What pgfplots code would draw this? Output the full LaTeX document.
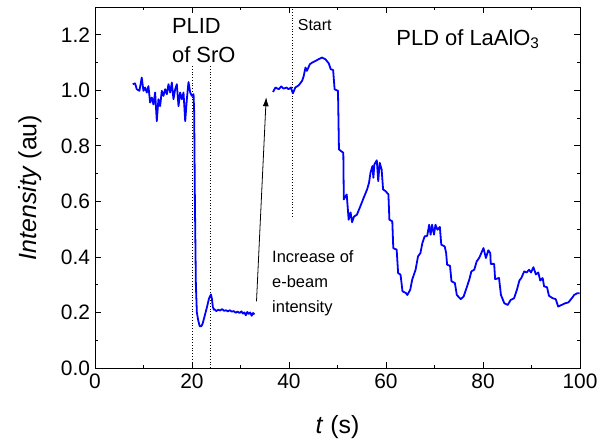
\documentclass[border=0pt]{standalone}
\usepackage{fontspec}
\setmainfont{Liberation Sans}
\usepackage{pgfplots}
\pgfplotsset{compat=1.18}
\usetikzlibrary{arrows.meta}
\begin{document}
\begin{tikzpicture}
\path[use as bounding box] (-95bp,-73bp) rectangle (504bp,368bp);
\begin{axis}[
  at={(0,0)}, anchor=south west,
  scale only axis, width=485bp, height=361bp,
  xmin=0, xmax=100, ymin=0, ymax=1.3,
  xtick={0,20,...,100}, ytick={0,0.2,...,1.2},
  minor x tick num=1, minor y tick num=1,
  tick align=inside,
  major tick length=6bp, minor tick length=3.5bp,
  axis line style={line width=0.9pt}, every tick/.style={line width=0.8pt, black},
  ticklabel style={font=\fontsize{21}{24}\selectfont},
  /pgf/number format/assume math mode=true,
  yticklabel style={xshift=-1.5bp, /pgf/number format/.cd, fixed, fixed zerofill, precision=1},
  xticklabel style={yshift=-2bp},
  xlabel={\textit{t} (s)}, ylabel={\textit{Intensity} (au)},
  label style={font=\fontsize{25}{28}\selectfont},
  xlabel style={at={(axis description cs:0.5,-0.163)}, anchor=center},
  ylabel style={at={(axis description cs:-0.134,0.5)}, anchor=center},
]
% dotted markers
\draw[dotted, line width=0.8pt] (axis cs:20.1,0) -- (axis cs:20.1,1.094);
\draw[dotted, line width=0.8pt] (axis cs:23.8,0) -- (axis cs:23.8,1.094);
\draw[dotted, line width=0.8pt] (axis cs:40.6,0.546) -- (axis cs:40.6,1.3);
% curve
\addplot[blue, line width=1.8pt, line join=round] coordinates {
(7.78,1.022)(8.26,1.025)(8.61,1.004)(9.16,0.998)(9.64,1.046)(9.99,0.998)(10.33,1.010)(10.68,0.992)
(11.02,1.015)(11.36,0.956)(11.71,0.974)(12.05,0.949)(12.40,0.992)(12.74,0.889)(13.08,0.968)(13.43,0.943)
(13.77,0.998)(14.12,0.980)(14.46,1.004)(14.81,0.986)(15.15,1.022)(15.50,0.992)(15.84,1.028)(16.18,0.968)
(16.53,1.004)(16.87,1.022)(17.22,0.943)(17.56,0.992)(17.91,0.968)(18.25,0.992)(18.60,0.889)(18.94,0.968)
(19.28,1.030)(19.63,0.992)(19.97,0.980)(20.32,0.986)
(20.45,0.92)(20.6,0.60)(20.8,0.30)(21.0,0.20)(21.3,0.17)(21.6,0.150)(21.9,0.150)(22.2,0.160)
(22.5,0.180)(22.8,0.200)(23.1,0.220)(23.5,0.250)(23.9,0.265)(24.1,0.250)(24.3,0.220)(24.5,0.210)
(24.6,0.212)(25.0,0.205)(25.4,0.210)(25.8,0.207)(26.2,0.212)(26.6,0.206)(27.0,0.208)(27.4,0.204)
(27.8,0.208)(28.2,0.203)(28.6,0.205)(29.0,0.199)(29.4,0.203)(29.8,0.198)(30.2,0.204)(30.5,0.196)
(30.8,0.200)(31.1,0.190)(31.4,0.202)(31.7,0.195)(32.0,0.200)(32.3,0.188)(32.6,0.198)(32.9,0.193)
};
\addplot[blue, line width=1.8pt, line join=round] coordinates {
(36.7,0.994)(37.2,1.010)(37.9,1.004)(38.4,1.014)(38.9,1.006)(39.5,1.010)(39.9,1.004)(40.4,1.010)
(40.8,0.989)(41.3,1.010)(42.0,1.018)(42.7,1.034)(43.0,1.049)(43.4,1.082)(43.7,1.070)(44.3,1.094)
(44.8,1.100)(45.5,1.106)(46.1,1.112)(46.8,1.118)(47.5,1.112)(48.2,1.097)(48.6,1.076)(49.1,1.073)
(49.4,1.004)(50.1,0.998)(50.3,0.787)(51.2,0.775)(51.3,0.607)(51.9,0.625)(52.3,0.534)(52.7,0.560)
(53.0,0.525)(53.4,0.545)(54.0,0.552)(54.7,0.582)(55.4,0.613)(56.1,0.643)(56.5,0.667)(56.8,0.703)
(57.2,0.727)(57.4,0.685)(57.6,0.733)(58.1,0.748)(58.4,0.673)(58.7,0.739)(59.1,0.715)(59.4,0.643)
(59.9,0.637)(60.5,0.625)(60.7,0.534)(61.3,0.528)(61.5,0.432)(62.2,0.426)(62.5,0.342)(63.0,0.336)
(63.4,0.276)(64.1,0.270)(64.4,0.263)(65.0,0.282)(65.4,0.318)(66.1,0.354)(66.6,0.402)(67.1,0.414)
(67.5,0.450)(67.97,0.474)(68.5,0.476)(68.9,0.516)(69.2,0.480)(69.5,0.516)(69.9,0.480)(70.2,0.516)
(70.6,0.498)(71.1,0.508)(71.4,0.444)(72.1,0.438)(72.4,0.414)(72.6,0.372)(73.2,0.368)(73.5,0.312)
(74.2,0.306)(74.6,0.263)(75.4,0.248)(76.0,0.257)(76.7,0.293)(77.2,0.320)(77.6,0.348)(78.2,0.354)
(78.7,0.384)(79.2,0.396)(79.5,0.408)(80.1,0.432)(80.6,0.396)(81.1,0.424)(81.5,0.414)(81.6,0.375)
(82.3,0.375)(82.5,0.320)(83.3,0.324)(83.7,0.263)(84.4,0.233)(85.1,0.227)(85.7,0.245)(86.4,0.251)
(87.0,0.282)(87.5,0.315)(87.9,0.324)(88.5,0.348)(89.0,0.344)(89.5,0.354)(89.9,0.344)(90.4,0.363)
(90.9,0.337)(91.4,0.344)(91.8,0.315)(92.3,0.324)(92.6,0.294)(93.2,0.291)(93.6,0.260)(94.4,0.251)
(95.0,0.248)(95.5,0.221)(96.2,0.227)(96.9,0.233)(97.6,0.236)(98.3,0.251)(98.8,0.263)(99.4,0.269)
(99.9,0.269)
};
% arrow
\draw[-{Latex[length=9bp,width=6bp]}, line width=0.8pt] (axis cs:33.3,0.24) -- (axis cs:35.3,0.975);
% texts
\node[anchor=west, font=\fontsize{22}{26}\selectfont, inner sep=0pt] at (axis cs:15.85,1.23) {PLID};
\node[anchor=west, font=\fontsize{22}{26}\selectfont, inner sep=0pt] at (axis cs:15.85,1.13) {of SrO};
\node[font=\fontsize{16}{19}\selectfont, inner sep=0pt] at (axis cs:45.3,1.235) {Start};
\node[font=\fontsize{22}{26}\selectfont, inner sep=0pt] at (axis cs:76.9,1.184) {PLD of LaAlO\textsubscript{3}};
\node[anchor=west, align=left, font=\fontsize{16.5}{25}\selectfont, inner sep=0pt] at (axis cs:36.5,0.306) {Increase of\\e-beam\\intensity};
\end{axis}
\end{tikzpicture}
\end{document}
